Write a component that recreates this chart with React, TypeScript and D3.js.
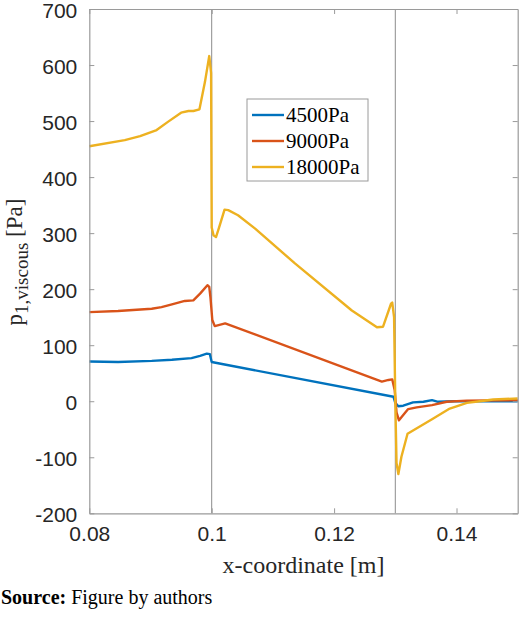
import { useEffect, useRef } from "react";
import { axisBottom, axisLeft, axisRight, axisTop, line, scaleLinear, select } from "d3";

// pressure series, one x/y pair per inlet pressure
const x4500 = [0.08, 0.0847, 0.0902, 0.0935, 0.0967, 0.0981, 0.0992, 0.0997, 0.1, 0.1019, 0.1297, 0.13, 0.1305, 0.1313, 0.1329, 0.1346, 0.136, 0.137, 0.1395, 0.15];
const p4500 = [71, 70, 72, 74, 77, 81, 85, 84, 70, 66, 8, -3, -9, -8, -2, -1, 2, -1, 0, 0];

const x9000 = [0.08, 0.0847, 0.0902, 0.0918, 0.0935, 0.0956, 0.097, 0.0981, 0.0993, 0.0996, 0.0998, 0.1001, 0.1005, 0.1022, 0.1278, 0.1289, 0.1295, 0.1299, 0.1302, 0.1306, 0.1321, 0.1335, 0.136, 0.1384, 0.1417, 0.15];
const p9000 = [159, 161, 165, 168, 173, 179, 180, 192, 207, 204, 185, 145, 134, 139, 35, 38, 39, 20, -20, -34, -14, -11, -7, -1, 1, 2];

const x18000 = [0.08, 0.0858, 0.0883, 0.091, 0.0929, 0.095, 0.0962, 0.097, 0.098, 0.0989, 0.0996, 0.0999, 0.1, 0.1003, 0.1007, 0.1012, 0.1021, 0.1027, 0.1043, 0.1071, 0.1136, 0.1229, 0.127, 0.128, 0.1293, 0.1295, 0.1298, 0.13, 0.1302, 0.1305, 0.131, 0.132, 0.136, 0.1389, 0.14, 0.1417, 0.1438, 0.146, 0.15];
const p18000 = [455, 466, 473, 484, 499, 515, 518, 518, 521, 570, 616, 586, 310, 296, 293, 310, 342, 341, 332, 308, 246, 162, 132, 133, 174, 176, 150, 0, -110, -130, -99, -58, -32, -13, -9, -3, 0, 3, 5];

const seriesNames = ["4500Pa", "9000Pa", "18000Pa"];
const seriesColors = ["#0072BD", "#D95319", "#EDB120"];
const xTicks = [0.08, 0.1, 0.12, 0.14];
const yTicks = [-200, -100, 0, 100, 200, 300, 400, 500, 600, 700];
const markerLines = [0.1, 0.13];

const W = 520;
const H = 623;
const margin = { top: 9, right: 2.3, bottom: 109.7, left: 89.3 };

export default function App() {
  const axRef = useRef<SVGGElement>(null);
  const innerW = W - margin.left - margin.right;
  const innerH = H - margin.top - margin.bottom;

  const x = scaleLinear().domain([0.08, 0.15]).range([0, innerW]);
  const y = scaleLinear().domain([-200, 700]).range([innerH, 0]);

  const series = [
    { xs: x4500, ps: p4500 },
    { xs: x9000, ps: p9000 },
    { xs: x18000, ps: p18000 },
  ];
  const path = line<[number, number]>()
    .x((d) => x(d[0]))
    .y((d) => y(d[1]));

  useEffect(() => {
    if (!axRef.current) return;
    const g = select(axRef.current);
    g.selectAll("*").remove();
    const fmt = (d: any) => String(d);
    const styleAxis = (sel: any) => {
      sel.select(".domain").attr("stroke", "#9a9a9a").attr("stroke-width", 1.2);
      sel.selectAll(".tick line").attr("stroke", "#9a9a9a");
      sel.selectAll(".tick text")
        .attr("fill", "#262626")
        .attr("font-family", "'Liberation Sans', Arial, sans-serif")
        .attr("font-size", 21);
    };
    g.append("g")
      .attr("transform", `translate(0,${innerH})`)
      .call(axisBottom(x).tickValues(xTicks).tickFormat(fmt).tickSizeInner(-5).tickSizeOuter(0).tickPadding(13))
      .call(styleAxis);
    g.append("g")
      .call(axisTop(x).tickValues(xTicks).tickFormat(() => "").tickSizeInner(-5).tickSizeOuter(0))
      .call(styleAxis);
    g.append("g")
      .call(axisLeft(y).tickValues(yTicks).tickFormat(fmt).tickSizeInner(-5).tickSizeOuter(0).tickPadding(12))
      .call(styleAxis)
      .selectAll(".tick text")
      .attr("dy", "0.4em");
    g.append("g")
      .attr("transform", `translate(${innerW},0)`)
      .call(axisRight(y).tickValues(yTicks).tickFormat(() => "").tickSizeInner(-5).tickSizeOuter(0))
      .call(styleAxis);
  }, []);

  const serif = "'Liberation Serif', 'Times New Roman', serif";
  const legendX = 247 - margin.left;
  const legendY = 99 - margin.top;

  return (
    <svg width={W} height={H} style={{ position: "absolute", left: 0, top: 0, background: "#fff" }}>
      <g transform={`translate(${margin.left},${margin.top})`}>
        {markerLines.map((v) => (
          <line key={v} x1={x(v)} x2={x(v)} y1={0} y2={innerH} stroke="#8c8c8c" strokeWidth={1} />
        ))}
        {series.map((s, i) => (
          <path
            key={seriesNames[i]}
            d={path(s.xs.map((v, j) => [v, s.ps[j]] as [number, number])) ?? ""}
            fill="none"
            stroke={seriesColors[i]}
            strokeWidth={2.4}
            strokeLinejoin="round"
          />
        ))}
        <g ref={axRef} />
        <g transform={`translate(${legendX},${legendY})`}>
          <rect x={0} y={0} width={121} height={82} fill="#fff" stroke="#9a9a9a" strokeWidth={1} />
          {seriesNames.map((n, i) => (
            <g key={n} transform={`translate(0,${16 + i * 26})`}>
              <line x1={5} x2={37} y1={0} y2={0} stroke={seriesColors[i]} strokeWidth={2.4} />
              <text x={39} y={7} fontFamily={serif} fontSize={21} fill="#000">
                {n}
              </text>
            </g>
          ))}
        </g>
      </g>
      <text x={303.5} y={573} textAnchor="middle" fontFamily={serif} fontSize={24} fill="#262626">
        x-coordinate [m]
      </text>
      <text transform="translate(22,262) rotate(-90)" textAnchor="middle" fontFamily={serif} fontSize={23} fill="#262626">
        p
        <tspan dy={6} fontSize={19}>1,viscous</tspan>
        <tspan dy={-6}> [Pa]</tspan>
      </text>
      <text x={1} y={604} fontFamily={serif} fontSize={20} fill="#000">
        <tspan fontWeight="bold">Source:</tspan> Figure by authors
      </text>
    </svg>
  );
}
